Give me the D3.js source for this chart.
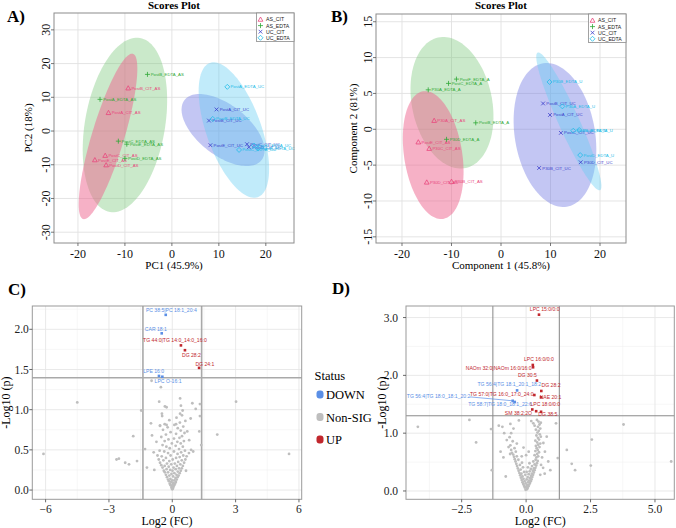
<!DOCTYPE html>
<html><head><meta charset="utf-8">
<script src="https://d3js.org/d3.v7.min.js"></script>
<style>html,body{margin:0;padding:0;background:#fff;}svg{display:block;}</style>
</head><body>
<svg id="chart" width="676" height="528"></svg>
<script>
// ======================= DATA =======================
const groups = ["AS_CIT","AS_EDTA","UC_CIT","UC_EDTA"];

// ---- Panel A : PCA scores ----
const scoresA_sample = ["PostA_CIT_AS","PostB_CIT_AS","PostC_CIT_AS","PostD_CIT_AS","PostE_CIT_AS",
  "PostA_EDTA_AS","PostB_EDTA_AS","PostC_EDTA_AS","PostD_EDTA_AS","PostE_EDTA_AS",
  "PostA_CIT_UC","PostB_CIT_UC","PostC_CIT_UC","PostD_CIT_UC","PostE_CIT_UC",
  "PostA_EDTA_UC","PostB_EDTA_UC","PostC_EDTA_UC","PostD_EDTA_UC","PostE_EDTA_UC"];
const scoresA_group = [0,0,0,0,0, 1,1,1,1,1, 2,2,2,2,2, 3,3,3,3,3];
const scoresA_pc1 = [-13.5,-9.3,-14.2,-14.0,-16.4, -15.3,-5.2,-11.4,-10.0,-9.6, 9.5,7.9,16.0,16.4,8.2, 11.8,8.7,14.3,17.5,18.3];
const scoresA_pc2 = [5.4,12.7,-7.3,-10.1,-8.6, 9.4,16.8,-3.0,-8.1,-3.9, 6.4,3.1,-3.9,-4.8,-4.2, 13.1,3.6,-5.6,-4.3,-5.2];
// confidence ellipses: [group, centre x, centre y, axis1 x, axis1 y, axis2 x, axis2 y] (data units)
const ellipsesA = [
  [1, -10.0, 1.8, 3.2, 25.8, 8.4, -2.0],
  [0, -13.6, -1.6, 5.3, 24.5, 3.3, -1.4],
  [2, 10.9, 0.3, 8.2, -8.9, -3.3, -5.9],
  [3, 13.2, 0.3, -5.1, 19.9, 5.5, 2.7]
];
const ticksA_x = [-20,-10,0,10,20];
const ticksA_y = [-30,-20,-10,0,10,20,30];

// ---- Panel B : PLS-DA scores ----
const scoresB_sample = ["P30A_CIT_AS","PostE_CIT_AS","P30C_CIT_AS","P30D_CIT_AS","P30B_CIT_AS",
  "PostF_EDTA_A","PostC_EDTA_A","P30A_EDTA_A","PostB_EDTA_A","P30D_EDTA_A",
  "PostB_CIT_UC","PostA_CIT_UC","PostC_CIT_UC","P30D_CIT_UC","P30B_CIT_UC",
  "P30B_EDTA_U","P30A_EDTA_U","PostB_EDTA_U","PostE_EDTA_U","PostD_EDTA_U"];
const scoresB_group = [0,0,0,0,0, 1,1,1,1,1, 2,2,2,2,2, 3,3,3,3,3];
const scoresB_c1 = [-13.5,-16.7,-14.5,-15.0,-10.0, -9.0,-10.6,-14.7,-5.1,-11.0, 8.5,9.9,12.1,16.1,7.7, 9.8,12.4,14.6,15.8,16.0];
const scoresB_c2 = [1.2,-1.8,-2.7,-7.4,-7.3, 7.0,6.4,5.5,0.9,-1.4, 3.6,2.0,-0.5,-4.6,-5.4, 6.6,3.2,-0.2,-0.1,-3.6];
const ellipsesB = [
  [1, -9.9, 3.7, -2.8, 9.1, 7.9, 1.2],
  [0, -13.7, -3.6, -2.0, 8.9, 5.8, 0.6],
  [2, 10.9, -0.8, -2.4, 10.0, 8.0, 0.9],
  [3, 13.7, 1.1, -6.3, 9.6, 1.9, 0.6]
];
const ticksB_x = [-20,-10,0,10,20];
const ticksB_y = [-15,-10,-5,0,5,10,15];

// ---- Panel C : volcano ----
const volcC_nonsig = [
 [0.00,0.01],[0.03,0.02],[-0.04,0.03],[0.06,0.04],[-0.02,0.05],[0.09,0.06],[-0.08,0.06],[0.02,0.07],[-0.12,0.08],[0.13,0.08],
 [0.05,0.09],[-0.05,0.10],[0.17,0.10],[-0.16,0.11],[0.10,0.12],[-0.01,0.12],[0.21,0.13],[-0.20,0.13],[-0.09,0.14],[0.15,0.15],
 [0.25,0.16],[-0.25,0.16],[0.04,0.17],[-0.14,0.18],[0.30,0.18],[0.20,0.19],[-0.30,0.19],[-0.04,0.20],[0.10,0.21],[0.35,0.21],
 [-0.20,0.22],[-0.35,0.22],[0.26,0.23],[0.01,0.24],[-0.40,0.24],[0.40,0.24],[-0.10,0.25],[0.16,0.26],[-0.27,0.26],[0.45,0.27],
 [0.32,0.27],[-0.46,0.28],[0.06,0.28],[-0.17,0.29],[0.22,0.30],[0.50,0.30],[-0.36,0.30],[-0.52,0.31],[-0.05,0.32],[0.38,0.32],
 [0.12,0.33],[-0.25,0.33],[0.56,0.34],[-0.58,0.34],[0.28,0.35],[-0.14,0.36],[0.45,0.37],[-0.42,0.37],[0.02,0.38],[-0.64,0.38],
 [0.62,0.38],[0.18,0.40],[-0.30,0.40],[0.35,0.41],[-0.50,0.42],[-0.08,0.43],[0.52,0.43],[0.68,0.42],[-0.70,0.43],[0.25,0.45],
 [-0.20,0.46],[0.42,0.47],[-0.38,0.48],[0.08,0.48],[-0.60,0.49],[0.60,0.49],[0.32,0.51],[-0.12,0.52],[-0.28,0.54],[0.50,0.54],
 [0.16,0.55],[-0.46,0.56],[0.40,0.58],[-0.02,0.58],[0.24,0.60],[-0.36,0.61],[0.55,0.61],[-0.18,0.63],[0.08,0.64],[0.34,0.65],
 [-0.52,0.66],[0.46,0.67],[-0.30,0.69],[0.18,0.70],[0.58,0.71],[-0.08,0.72],[0.40,0.74],[-0.44,0.75],[0.26,0.77],[-0.22,0.78],
 [0.52,0.79],[0.10,0.81],[-0.36,0.82],[0.36,0.84],[-0.58,0.80],[0.62,0.86],[-0.14,0.87],[0.20,0.90],[0.46,0.93],[-0.48,0.92],
 [-0.98,1.36],[-0.54,1.28],[-4.50,1.09],[-1.47,0.99],[0.37,1.14],[-0.62,1.10],[-0.35,1.04],[-0.27,1.03],[-0.49,0.95],[0.41,1.05],
 [0.95,1.08],[1.31,1.07],[1.11,1.01],[0.49,0.99],[0.87,0.89],[0.37,0.95],[-1.01,0.83],[-0.58,0.80],[-0.27,0.81],[0.18,0.82],
 [3.02,1.10],[2.13,0.69],[-1.85,0.67],[1.28,0.73],[0.71,0.73],[-0.96,0.68],[1.37,0.56],[-1.29,0.51],[-0.88,0.47],[0.89,0.50],
 [0.99,0.48],[0.79,0.46],[-6.10,0.45],[5.53,0.45],[-2.64,0.38],[-2.53,0.39],[-2.23,0.34],[-2.05,0.32],[-1.67,0.36],[-1.20,0.28],
 [-0.85,0.25],[0.65,0.24],[1.31,0.92],[-0.75,0.60],[0.80,0.62]
];
const volcC_sigName = ["PC 38:5|PC 18:1_20:4","CAR 18:1","LPE 16:0","LPC O-16:1","TG 44:0|TG 14:0_14:0_16:0","DG 28:2","DG 24:1"];
const volcC_sigFC = [-0.31,-0.50,-0.63,-0.47,0.41,0.60,1.27];
const volcC_sigP = [2.18,1.95,1.42,1.41,1.80,1.74,1.52];
const volcC_sigStatus = ["DOWN","DOWN","DOWN","DOWN","UP","UP","UP"];
const volcC_cutFC = 1.39, volcC_cutP = 1.398;
const ticksC_x = [-6,-3,0,3,6];
const ticksC_y = [0,0.5,1,1.5,2];

// ---- Panel D : volcano ----
const volcD_nonsig = [
 [-0.02,0.02],[0.03,0.03],[0.06,0.05],[-0.05,0.06],[0.00,0.07],[0.09,0.08],[-0.08,0.09],[0.04,0.10],[0.12,0.11],[-0.11,0.12],
 [-0.02,0.13],[0.15,0.14],[0.07,0.15],[-0.14,0.15],[0.18,0.17],[-0.06,0.17],[0.11,0.18],[-0.17,0.19],[0.21,0.20],[0.02,0.20],
 [-0.10,0.21],[0.15,0.22],[-0.20,0.23],[0.24,0.24],[0.06,0.24],[-0.14,0.25],[0.19,0.26],[-0.23,0.27],[0.27,0.28],[-0.03,0.28],
 [0.10,0.29],[-0.18,0.30],[0.22,0.30],[-0.26,0.31],[0.30,0.32],[0.02,0.33],[-0.08,0.33],[0.14,0.34],[-0.29,0.35],[0.26,0.35],
 [0.33,0.36],[-0.21,0.37],[0.18,0.38],[-0.32,0.39],[0.30,0.39],[0.36,0.40],[-0.12,0.41],[0.07,0.41],[-0.35,0.43],[0.23,0.43],
 [0.39,0.44],[-0.24,0.45],[0.33,0.46],[-0.38,0.47],[0.42,0.48],[0.13,0.48],[-0.16,0.49],[-0.41,0.51],[0.28,0.51],[0.45,0.52],
 [0.37,0.54],[-0.30,0.54],[-0.44,0.55],
 [-0.47,0.59],[-0.36,0.60],[-0.50,0.63],[-0.55,0.66],[-0.40,0.68],[-0.62,0.64],[-0.58,0.71],[-0.45,0.74],[-0.68,0.76],[-0.61,0.79],
 [-0.36,0.82],[-0.75,0.88],[-0.52,0.86],[-0.64,0.93],[-0.85,1.00],[-0.58,1.00],[-0.49,1.08],[-0.92,1.11],[-1.06,1.13],[-0.61,1.16],
 [-0.28,1.22],[-0.99,0.68],[-0.88,0.58],[-0.79,0.25],[-1.33,0.36],[-1.36,1.07],[-1.94,0.84],[-2.20,1.23],[-4.20,1.11],
 [0.40,0.58],[0.47,0.60],[0.33,0.62],[0.43,0.64],[0.50,0.67],[0.36,0.69],[0.45,0.71],[0.41,0.74],[0.52,0.76],[0.38,0.78],
 [0.47,0.80],[0.55,0.82],[0.43,0.84],[0.36,0.87],[0.50,0.89],[0.46,0.92],[0.57,0.94],[0.40,0.96],[0.53,0.98],[0.44,1.01],
 [0.49,1.04],[0.38,1.06],[0.55,1.08],[0.46,1.11],[0.33,1.13],[0.52,1.15],[0.57,1.18],[0.28,1.17],[0.48,1.20],[0.20,1.21],[0.42,1.23],
 [0.58,0.45],[0.73,0.68],[0.67,0.83],[0.80,0.94],[0.86,0.51],[0.94,0.36],[1.23,0.57],[1.16,1.17],[1.58,0.71],[1.77,0.47],
 [1.90,0.36],[2.51,0.44],[2.55,0.89],[3.78,1.15],[5.63,0.51],[0.66,0.40],[0.62,0.58],[0.72,0.30],[0.55,0.28],
 [-0.17,0.60],[0.00,0.62],[-0.10,0.75],[0.10,0.68]
];
const volcD_sigName = ["LPC 15:0/0:0","LPC 16:0/0:0","NAOm 32:0|NAOm 16:0/16:0","DG 30:5","DG 28:2",
  "TG 56:4|TG 18:1_20:1_18:2","TG 57:0|TG 16:0_17:0_24:0","NAE 20:1","TG 56:4|TG 18:0_18:1_20:2",
  "TG 58:7|TG 18:0_18:1_22:6","LPC 18:0/0:0","SM 38:2;2O","DG 38:5"];
const volcD_sigFC = [0.50,0.26,0.27,0.42,0.59,-0.35,0.32,0.58,-0.52,-0.44,0.24,0.39,0.58];
const volcD_sigP = [3.05,2.18,2.14,1.91,1.73,1.74,1.66,1.62,1.56,1.54,1.41,1.38,1.37];
const volcD_sigStatus = ["UP","UP","UP","UP","UP","DOWN","UP","UP","DOWN","DOWN","UP","UP","UP"];
const volcD_cutFC = 1.29, volcD_cutP = 1.301;
const ticksD_x = [-2.5,0,2.5,5];
const ticksD_y = [0,1,2,3];

const statusLevels = ["DOWN","Non-SIG","UP"];

// ======================= STYLE / LAYOUT =======================
const SERIF = "'Liberation Serif','Times New Roman',serif";
const SANS = "'Liberation Sans',Arial,sans-serif";
const grpColor = ["#E8467C","#2FA836","#3B3FCB","#20BCE8"];
const grpFill = ["rgb(238,100,142)","rgb(115,198,115)","rgb(112,120,226)","rgb(100,205,242)"];
const grpFillOp = [0.5,0.38,0.42,0.40];
const statusColor = {"DOWN":"#5B8FE6","Non-SIG":"#BEBEBE","UP":"#C1272D"};

// label placement (pixels, relative to point): [dx, dy]
const labelPosC = {
 "PC 38:5|PC 18:1_20:4":[5.6,-3.3],"CAR 18:1":[-5.8,-2.3],"LPE 16:0":[-5.3,-2.7],"LPC O-16:1":[5.7,6.3],
 "TG 44:0|TG 14:0_14:0_16:0":[-6,-3],"DG 28:2":[6.5,7],"DG 24:1":[5.8,-2]
};
const labelPosD = {
 "LPC 15:0/0:0":[5.7,-3.3],"LPC 16:0/0:0":[6.1,-4],"NAOm 32:0|NAOm 16:0/16:0":[-34.4,2.8],"DG 30:5":[-9.5,-3.7],
 "DG 28:2":[9.7,-3.7],"TG 56:4|TG 18:1_20:1_18:2":[-7.8,-4],"TG 57:0|TG 16:0_17:0_24:0":[-32.6,1.2],"NAE 20:1":[9.5,1.2],
 "TG 56:4|TG 18:0_18:1_20:2":[-74.1,-2.4],"TG 58:7|TG 18:0_18:1_22:6":[-14.7,3.9],"LPC 18:0/0:0":[13,-3.6],
 "SM 38:2;2O":[-17.7,4],"DG 38:5":[6.8,4]
};
const leaderD = {"TG 56:4|TG 18:0_18:1_20:2": true};

const svg = d3.select("#chart");
svg.append("rect").attr("width",676).attr("height",528).attr("fill","#fff");

function drawMarker(g, type, cx, cy, color){
  const s = 2.5;
  if(type===0){
    g.append("path").attr("d",`M${cx},${cy-s}L${cx+s*0.95},${cy+s*0.7}L${cx-s*0.95},${cy+s*0.7}Z`)
      .attr("fill","none").attr("stroke",color).attr("stroke-width",0.8);
  } else if(type===1){
    g.append("path").attr("d",`M${cx-s},${cy}H${cx+s}M${cx},${cy-s}V${cy+s}`)
      .attr("stroke",color).attr("stroke-width",0.8);
  } else if(type===2){
    const r=s*0.75;
    g.append("path").attr("d",`M${cx-r},${cy-r}L${cx+r},${cy+r}M${cx-r},${cy+r}L${cx+r},${cy-r}`)
      .attr("stroke",color).attr("stroke-width",0.8);
  } else {
    g.append("path").attr("d",`M${cx},${cy-s}L${cx+s},${cy}L${cx},${cy+s}L${cx-s},${cy}Z`)
      .attr("fill","none").attr("stroke",color).attr("stroke-width",0.8);
  }
}

function pcaPanel(c){
  const g = svg.append("g");
  const x = d3.scaleLinear().domain(c.xDom).range([c.left,c.right]);
  const y = d3.scaleLinear().domain(c.yDom).range([c.bottom,c.top]);
  const clipId = "clip"+c.id;
  g.append("clipPath").attr("id",clipId).append("rect")
    .attr("x",c.left).attr("y",c.top).attr("width",c.right-c.left).attr("height",c.bottom-c.top);
  g.selectAll(null).data(c.xTicks).join("line")
    .attr("x1",d=>x(d)).attr("x2",d=>x(d)).attr("y1",c.top).attr("y2",c.bottom)
    .attr("stroke","#e1e1e1").attr("stroke-width",0.9);
  g.selectAll(null).data(c.yTicks).join("line")
    .attr("y1",d=>y(d)).attr("y2",d=>y(d)).attr("x1",c.left).attr("x2",c.right)
    .attr("stroke","#e1e1e1").attr("stroke-width",0.9);
  const ang = d3.range(0,360,3).map(d=>d*Math.PI/180);
  const eg = g.append("g").attr("clip-path",`url(#${clipId})`);
  c.ellipses.forEach(e=>{
    const pts = ang.map(a=>[x(e[1]+Math.cos(a)*e[3]+Math.sin(a)*e[5]), y(e[2]+Math.cos(a)*e[4]+Math.sin(a)*e[6])]);
    eg.append("path").attr("d", d3.line().curve(d3.curveLinearClosed)(pts))
      .attr("fill",grpFill[e[0]]).attr("fill-opacity",grpFillOp[e[0]]).attr("stroke","none");
  });
  c.px.forEach((v,i)=>{
    const cx = x(v), cy = y(c.py[i]), gi = c.grp[i];
    drawMarker(g, gi, cx, cy, grpColor[gi]);
    g.append("text").attr("x",cx+3.2).attr("y",cy+1.5).text(c.names[i])
      .attr("font-family",SANS).attr("font-size",4.3).attr("fill",grpColor[gi]);
  });
  g.append("rect").attr("x",c.left).attr("y",c.top).attr("width",c.right-c.left).attr("height",c.bottom-c.top)
    .attr("fill","none").attr("stroke","#8c8c8c").attr("stroke-width",1);
  g.selectAll(null).data(c.xTicks).join("line")
    .attr("x1",d=>x(d)).attr("x2",d=>x(d)).attr("y1",c.bottom).attr("y2",c.bottom+3)
    .attr("stroke","#555").attr("stroke-width",0.8);
  g.selectAll(null).data(c.yTicks).join("line")
    .attr("y1",d=>y(d)).attr("y2",d=>y(d)).attr("x1",c.left).attr("x2",c.left-3)
    .attr("stroke","#555").attr("stroke-width",0.8);
  g.selectAll(null).data(c.xTicks).join("text")
    .attr("x",d=>x(d)).attr("y",c.bottom+15).attr("text-anchor","middle")
    .attr("font-family",SERIF).attr("font-size",12).attr("fill","#111").text(d=>d);
  g.selectAll(null).data(c.yTicks).join("text")
    .attr("transform",d=>`translate(${c.left-8},${y(d)}) rotate(-90)`)
    .attr("text-anchor","middle").attr("dy","0.35em")
    .attr("font-family",SERIF).attr("font-size",12).attr("fill","#111").text(d=>d);
  g.append("text").attr("x",(c.left+c.right)/2).attr("y",268.5).attr("text-anchor","middle")
    .attr("font-family",SERIF).attr("font-size",11).text(c.xLab);
  g.append("text").attr("transform",`translate(${c.yLabX},${(c.top+c.bottom)/2}) rotate(-90)`)
    .attr("text-anchor","middle").attr("dy","0.35em")
    .attr("font-family",SERIF).attr("font-size",11).text(c.yLab);
  g.append("text").attr("x",(c.left+c.right)/2).attr("y",8.8).attr("text-anchor","middle")
    .attr("font-family",SERIF).attr("font-weight","bold").attr("font-size",11).text("Scores Plot");
  const lw = 37.5, lh = 28.5, lx = c.right-lw, ly = c.top;
  g.append("rect").attr("x",lx).attr("y",ly).attr("width",lw).attr("height",lh)
    .attr("fill","#fff").attr("stroke","#8c8c8c").attr("stroke-width",0.8);
  groups.forEach((name,i)=>{
    const yy = ly+6.5+i*6.1;
    drawMarker(g, i, lx+4, yy, grpColor[i]);
    g.append("text").attr("x",lx+9.5).attr("y",yy+1.9).text(name)
      .attr("font-family",SANS).attr("font-size",5.2).attr("fill","#222");
  });
  g.append("text").attr("x",c.letterX).attr("y",21.7).text(c.letter)
    .attr("font-family",SERIF).attr("font-weight","bold").attr("font-size",17);
}

pcaPanel({id:"A",left:54,right:294,top:13,bottom:243,xDom:[-25.1,26.0],yDom:[-33.2,35.0],
  xTicks:ticksA_x,yTicks:ticksA_y,ellipses:ellipsesA,px:scoresA_pc1,py:scoresA_pc2,grp:scoresA_group,
  names:scoresA_sample,xLab:"PC1 (45.9%)",yLab:"PC2 (18%)",yLabX:28,letter:"A)",letterX:7});
pcaPanel({id:"B",left:376,right:626,top:14,bottom:243,xDom:[-25.25,25.25],yDom:[-15.86,16.08],
  xTicks:ticksB_x,yTicks:ticksB_y,ellipses:ellipsesB,px:scoresB_c1,py:scoresB_c2,grp:scoresB_group,
  names:scoresB_sample,xLab:"Component 1 (45.8%)",yLab:"Component 2 (81%)",yLabX:353,letter:"B)",letterX:331});

function volcanoPanel(c){
  const g = svg.append("g");
  const x = d3.scaleLinear().domain(c.xDom).range([c.left,c.right]);
  const y = d3.scaleLinear().domain(c.yDom).range([c.bottom,c.top]);
  const stepX = c.xTicks[1]-c.xTicks[0], stepY = c.yTicks[1]-c.yTicks[0];
  const minorX = c.xTicks.map(d=>d+stepX/2).concat([c.xTicks[0]-stepX/2]).filter(d=>d>c.xDom[0]&&d<c.xDom[1]);
  const minorY = c.yTicks.map(d=>d+stepY/2).filter(d=>d>c.yDom[0]&&d<c.yDom[1]);
  g.selectAll(null).data(minorX).join("line").attr("x1",d=>x(d)).attr("x2",d=>x(d))
    .attr("y1",c.top).attr("y2",c.bottom).attr("stroke","#f2f2f2").attr("stroke-width",0.6);
  g.selectAll(null).data(minorY).join("line").attr("y1",d=>y(d)).attr("y2",d=>y(d))
    .attr("x1",c.left).attr("x2",c.right).attr("stroke","#f2f2f2").attr("stroke-width",0.6);
  g.selectAll(null).data(c.xTicks).join("line").attr("x1",d=>x(d)).attr("x2",d=>x(d))
    .attr("y1",c.top).attr("y2",c.bottom).attr("stroke","#e6e6e6").attr("stroke-width",0.9);
  g.selectAll(null).data(c.yTicks).join("line").attr("y1",d=>y(d)).attr("y2",d=>y(d))
    .attr("x1",c.left).attr("x2",c.right).attr("stroke","#e6e6e6").attr("stroke-width",0.9);
  [-c.cutFC, c.cutFC].forEach(v=>{
    g.append("line").attr("x1",x(v)).attr("x2",x(v)).attr("y1",c.top).attr("y2",c.bottom)
      .attr("stroke",c.cutColor).attr("stroke-width",c.cutWidth);
  });
  g.append("line").attr("x1",c.left).attr("x2",c.right).attr("y1",y(c.cutP)).attr("y2",y(c.cutP))
    .attr("stroke",c.cutColor).attr("stroke-width",c.cutWidth);
  g.selectAll(null).data(c.nonsig).join("circle").attr("cx",d=>x(d[0])).attr("cy",d=>y(d[1]))
    .attr("r",1.4).attr("fill",statusColor["Non-SIG"]);
  c.names.forEach((n,i)=>{
    const cx = x(c.fc[i]), cy = y(c.p[i]), col = statusColor[c.status[i]];
    const off = c.labelPos[n];
    if(c.leader && c.leader[n]){
      g.append("line").attr("x1",cx+off[0]+31.5).attr("y1",cy+off[1]-1.5).attr("x2",cx).attr("y2",cy)
        .attr("stroke",col).attr("stroke-width",0.7);
    }
    g.append("rect").attr("x",cx-1.3).attr("y",cy-1.3).attr("width",2.6).attr("height",2.6).attr("fill",col);
    g.append("text").attr("x",cx+off[0]).attr("y",cy+off[1]).attr("text-anchor","middle").text(n)
      .attr("font-family",SANS).attr("font-size",5.1).attr("fill",col);
  });
  g.append("rect").attr("x",c.left).attr("y",c.top).attr("width",c.right-c.left).attr("height",c.bottom-c.top)
    .attr("fill","none").attr("stroke","#9a9a9a").attr("stroke-width",1);
  g.selectAll(null).data(c.xTicks).join("line").attr("x1",d=>x(d)).attr("x2",d=>x(d))
    .attr("y1",c.bottom).attr("y2",c.bottom+3).attr("stroke","#444").attr("stroke-width",0.8);
  g.selectAll(null).data(c.yTicks).join("line").attr("y1",d=>y(d)).attr("y2",d=>y(d))
    .attr("x1",c.left).attr("x2",c.left-3).attr("stroke","#444").attr("stroke-width",0.8);
  g.selectAll(null).data(c.xTicks).join("text").attr("x",d=>x(d)).attr("y",c.bottom+14)
    .attr("text-anchor","middle").attr("font-family",SERIF).attr("font-size",11.5).attr("fill","#222")
    .text(d=>d3.format(c.xFmt)(d));
  g.selectAll(null).data(c.yTicks).join("text").attr("x",c.left-c.yLabGap).attr("y",d=>y(d)).attr("dy","0.35em")
    .attr("text-anchor","end").attr("font-family",SERIF).attr("font-size",11.5).attr("fill","#222")
    .text(d=>d3.format(".1f")(d));
  g.append("text").attr("x",(c.left+c.right)/2).attr("y",525).attr("text-anchor","middle")
    .attr("font-family",SERIF).attr("font-size",12).text("Log2 (FC)");
  g.append("text").attr("transform",`translate(${c.yLabX},${(c.top+c.bottom)/2}) rotate(-90)`)
    .attr("text-anchor","middle").attr("dy","0.35em").attr("font-family",SERIF).attr("font-size",12).text("-Log10 (p)");
  g.append("text").attr("x",c.letterX).attr("y",c.letterY).text(c.letter)
    .attr("font-family",SERIF).attr("font-weight","bold").attr("font-size",17);
}

volcanoPanel({left:32.3,right:301.7,top:306,bottom:499.3,xDom:[-6.63,6.13],yDom:[-0.115,2.29],
  xTicks:ticksC_x,yTicks:ticksC_y,xFmt:"d",nonsig:volcC_nonsig,names:volcC_sigName,fc:volcC_sigFC,p:volcC_sigP,
  status:volcC_sigStatus,labelPos:labelPosC,cutFC:volcC_cutFC,cutP:volcC_cutP,cutColor:"#a9a9a9",cutWidth:1.6,
  yLabX:6,yLabGap:3.5,letter:"C)",letterX:8,letterY:295});
volcanoPanel({left:406,right:674.3,top:306,bottom:499.3,xDom:[-4.66,5.75],yDom:[-0.144,3.2],
  xTicks:ticksD_x,yTicks:ticksD_y,xFmt:".1f",nonsig:volcD_nonsig,names:volcD_sigName,fc:volcD_sigFC,p:volcD_sigP,
  status:volcD_sigStatus,labelPos:labelPosD,leader:leaderD,cutFC:volcD_cutFC,cutP:volcD_cutP,cutColor:"#8a8a8a",cutWidth:1,
  yLabX:381.5,yLabGap:8,letter:"D)",letterX:332,letterY:293.5});

// Status legend
const lg = svg.append("g");
lg.append("text").attr("x",314.5).attr("y",380).text("Status").attr("font-family",SERIF).attr("font-size",12.5);
statusLevels.forEach((s,i)=>{
  const cy = 394.5 + i*22.5;
  lg.append("rect").attr("x",316.5).attr("y",cy-4).attr("width",7).attr("height",8).attr("rx",3)
    .attr("fill",statusColor[s]);
  lg.append("text").attr("x",326).attr("y",cy+4.5).text(s).attr("font-family",SERIF).attr("font-size",12.5);
});
</script>
</body></html>
